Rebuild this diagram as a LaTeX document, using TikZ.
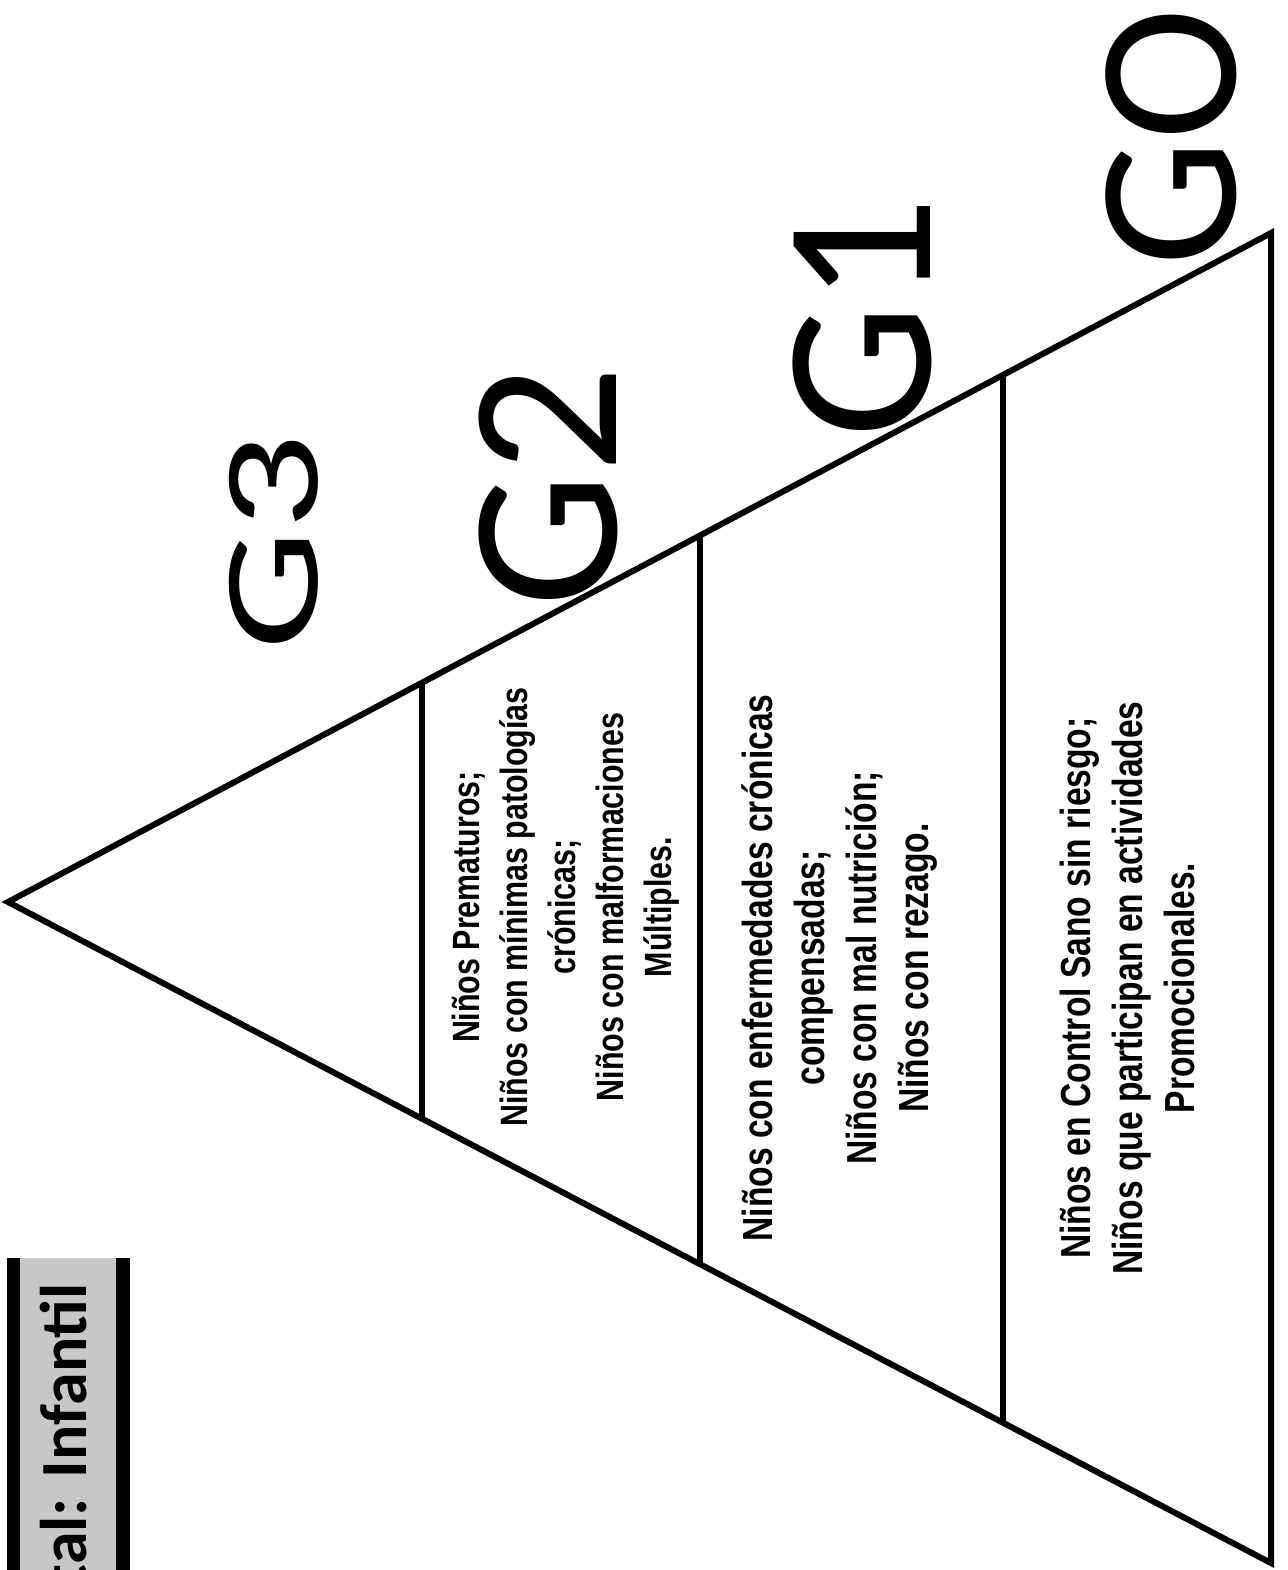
\documentclass[tikz,border=0pt]{standalone}
\usepackage{fontspec}
\usepackage{graphicx}
\usetikzlibrary{calc}
\newfontfamily\narrowf[FakeStretch=0.8]{Liberation Sans}
\newfontfamily\calib{Carlito}
\tikzset{
  edge/.style={line width=3pt, line join=miter},
  divider/.style={line width=2.6pt},
  bodytext/.style={rotate=90, align=center, inner sep=0pt, font=\narrowf\bfseries\fontsize{21}{26}\selectfont},
  smalltext/.style={rotate=90, align=center, inner sep=0pt, font=\narrowf\bfseries\fontsize{19}{24}\selectfont},
  glabel/.style={rotate=90, inner sep=0pt, font=\calib\fontsize{106}{106}\selectfont},
}
\begin{document}
\begin{tikzpicture}[x=0.5pt,y=-0.5pt]
\useasboundingbox (0,0) rectangle (1288,1570);
\clip (0,0) rectangle (1288,1570);
% title box
\fill[black!22] (7,1258) rectangle (130,1580);
\fill[black] (7,1258) rectangle (20,1580);
\fill[black] (116,1258) rectangle (130,1580);
\node[rotate=90, anchor=base east, inner sep=0pt, font=\calib\bfseries\fontsize{33}{33}\selectfont] (title) at (86,1283) {tal: Infantil};
% triangle
\coordinate (A) at (8,902);
\coordinate (B) at (1271,233);
\coordinate (C) at (1271,1563);
\draw[edge] (A) -- (B) -- (C) -- cycle;
\coordinate (d1t) at ($(A)!0.3278!(B)$);
\coordinate (d1b) at ($(A)!0.3278!(C)$);
\coordinate (d2t) at ($(A)!0.5479!(B)$);
\coordinate (d2b) at ($(A)!0.5479!(C)$);
\coordinate (d3t) at ($(A)!0.7878!(B)$);
\coordinate (d3b) at ($(A)!0.7878!(C)$);
\draw[divider] (d1t) -- (d1b);
\draw[divider] (d2t) -- (d2b);
\draw[divider] (d3t) -- (d3b);
% texts
\node[smalltext] (t3) at (566,907) {Niños Prematuros;\\Niños con mínimas patologías\\crónicas;\\Niños con malformaciones\\Múltiples.};
\node[bodytext] (t2) at (840,968) {Niños con enfermedades crónicas\\compensadas;\\Niños con mal nutrición;\\Niños con rezago.};
\node[bodytext] (t1) at (1127,988) {Niños en Control Sano sin riesgo;\\Niños que participan en actividades\\Promocionales.};
% labels
\node[glabel, font=\calib\fontsize{68}{68}\selectfont] (g3) at (274,542) {\scalebox{1.4}[1]{G3}};
\node[glabel] (g2) at (548,487) {G2};
\node[glabel] (g1) at (862,318) {G1};
\node[glabel, font=\calib\fontsize{100}{100}\selectfont] (g0) at (1171,137) {GO};
\end{tikzpicture}
\end{document}
